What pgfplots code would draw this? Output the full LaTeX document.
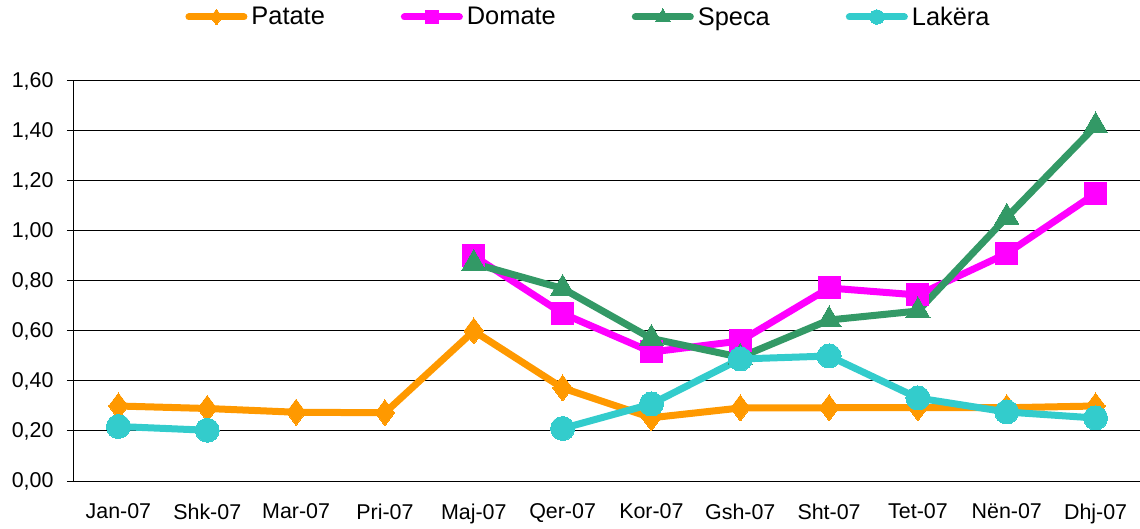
\documentclass[border=0pt]{standalone}
\usepackage{pgfplots}
\pgfplotsset{compat=1.18}
\usepackage{fontspec}
\setmainfont{Liberation Sans}
\definecolor{cPat}{HTML}{FF9900}
\definecolor{cDom}{HTML}{FF00FF}
\definecolor{cSpe}{HTML}{339966}
\definecolor{cLak}{HTML}{33CCCC}
\begin{document}
\begin{tikzpicture}
\begin{axis}[
  at={(0,0)}, anchor=south west,
  scale only axis, width=1066bp, height=400bp,
  xmin=-0.5, xmax=11.5, ymin=0, ymax=1.6,
  axis x line=bottom, axis y line=left,
  axis line style={-, black, line width=1bp},
  xtick={0,...,11},
  xticklabels={Jan-07,Shk-07,Mar-07,Pri-07,Maj-07,Qer-07,Kor-07,Gsh-07,Sht-07,Tet-07,Nën-07,Dhj-07},
  x tick style={draw=none},
  minor xtick={-0.5,0.5,...,11.5},
  minor x tick style={black, line width=1bp},
  minor tick length=7bp,
  ytick={0,0.2,...,1.6},
  y tick style={black, line width=1bp},
  major tick length=7bp,
  tick align=outside,
  ymajorgrids, grid style={black, line width=1bp},
  tick label style={font=\fontsize{21.5}{25}\selectfont},
  xticklabel style={yshift=-12bp},
  yticklabel style={xshift=-10bp},
  y tick label style={/pgf/number format/.cd, fixed, fixed zerofill, precision=2, use comma, assume math mode=true},
  unbounded coords=jump,
  legend columns=4,
  legend style={draw=none, fill=none, at={(0.4817,1)}, anchor=center, yshift=64bp,
    font=\fontsize{25.5}{30}\selectfont,
    nodes={inner sep=0bp},
    /tikz/every odd column/.append style={column sep=4bp},
    /tikz/every even column/.append style={column sep=76bp}},
  legend image code/.code={
    \draw[mark repeat=2, mark phase=2, line cap=round, #1, /tikz/every mark/.append style={scale=0.6}] plot coordinates {(3.5bp,0bp) (31bp,0bp) (58.5bp,0bp)};
  },
  every axis plot/.append style={line width=7bp, line join=round},
]
\addplot[cPat, mark=diamond*, mark size=13bp, mark options={solid, line width=0pt}] coordinates {
 (0,0.30) (1,0.29) (2,0.275) (3,0.273) (4,0.60) (5,0.372) (6,0.253) (7,0.292) (8,0.293) (9,0.293) (10,0.293) (11,0.30)};
\addlegendentry{Patate}
\addplot[cDom, mark=square*, mark size=11bp, mark options={solid, line width=0pt}] coordinates {
 (4,0.90) (5,0.67) (6,0.516) (7,0.56) (8,0.772) (9,0.744) (10,0.91) (11,1.15)};
\addlegendentry{Domate}
\addplot[cSpe, mark=triangle*, mark size=14bp, mark options={solid, line width=0pt}] coordinates {
 (4,0.87) (5,0.77) (6,0.57) (7,0.495) (8,0.644) (9,0.68) (10,1.055) (11,1.42)};
\addlegendentry{Speca}
\addplot[cLak, mark=*, mark size=12bp, mark options={solid, line width=0pt}] coordinates {
 (0,0.218) (1,0.203) (2,nan) (3,nan) (4,nan) (5,0.21) (6,0.308) (7,0.488) (8,0.50) (9,0.332) (10,0.276) (11,0.252)};
\addlegendentry{Lakëra}
\end{axis}
\pgfresetboundingbox
\path[use as bounding box] (-74bp,-48bp) rectangle (1066bp,481bp);
\end{tikzpicture}
\end{document}
